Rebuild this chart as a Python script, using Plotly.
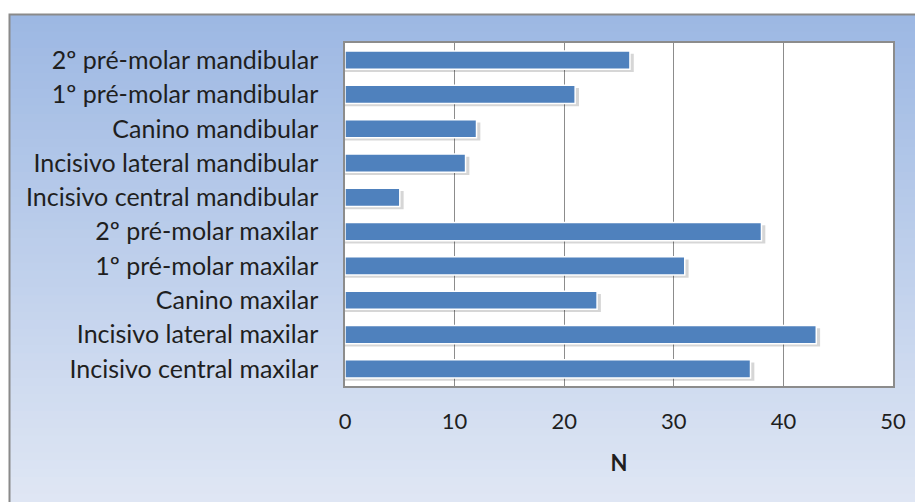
import plotly.graph_objects as go

categories = [
    "2º pré-molar mandibular",
    "1º pré-molar mandibular",
    "Canino mandibular",
    "Incisivo lateral mandibular",
    "Incisivo central mandibular",
    "2º pré-molar maxilar",
    "1º pré-molar maxilar",
    "Canino maxilar",
    "Incisivo lateral maxilar",
    "Incisivo central maxilar",
]
values = [26, 21, 12, 11, 5, 38, 31, 23, 43, 37]
x_ticks = [0, 10, 20, 30, 40, 50]
x_title = "N"

# page has an 8px body margin
OFF = 8
W, H = 923, 502
L = 345 - OFF
T = 43 - OFF
R = W - (893 - OFF)
B = H - (386 - OFF)
pw, ph = W - L - R, H - T - B

def px_to_paper_x(px):  # px in page coords
    return (px - OFF - L) / pw

def px_to_paper_y(py):
    return (H - B - (py - OFF)) / ph

shapes = []
top_c = (157, 184, 227)
bot_c = (224, 231, 244)
n = 60
y_start, y_end = 15, 510
for i in range(n):
    t = i / (n - 1)
    c = tuple(round(top_c[k] + (bot_c[k] - top_c[k]) * t) for k in range(3))
    ya = y_start + (y_end - y_start) * i / n
    yb = y_start + (y_end - y_start) * (i + 1) / n + 1
    shapes.append(dict(
        type="rect", xref="paper", yref="paper", layer="below",
        x0=px_to_paper_x(10), x1=px_to_paper_x(940),
        y0=px_to_paper_y(ya), y1=px_to_paper_y(yb),
        fillcolor="rgb(%d,%d,%d)" % c, line=dict(width=0),
    ))
shapes.append(dict(type="rect", xref="paper", yref="paper", layer="below",
                   x0=0, x1=1, y0=0, y1=1, fillcolor="white", line=dict(width=0)))
shapes.append(dict(type="rect", xref="paper", yref="paper", layer="above",
                   x0=px_to_paper_x(9.5), x1=px_to_paper_x(960),
                   y0=px_to_paper_y(540), y1=px_to_paper_y(14.5),
                   fillcolor="rgba(0,0,0,0)", line=dict(width=2, color="#8a8a8a")))

bw = 0.53
fig = go.Figure()
fig.add_trace(go.Bar(
    y=categories, x=[v + 0.35 for v in values], orientation="h",
    width=bw, offset=-bw / 2 + 0.08,
    marker=dict(color="rgba(0,0,0,0.16)", line=dict(width=0)),
    hoverinfo="skip", showlegend=False,
))
fig.add_trace(go.Bar(
    y=categories, x=values, orientation="h",
    width=bw, offset=-bw / 2,
    marker=dict(color="#4F81BD", line=dict(color="white", width=1.5)),
    showlegend=False,
))

fig.update_layout(
    width=W, height=H,
    margin=dict(l=L, r=R, t=T, b=B),
    paper_bgcolor="white", plot_bgcolor="rgba(0,0,0,0)",
    barmode="overlay",
    shapes=shapes,
    font=dict(family="Lato, 'Open Sans', sans-serif", color="#1f1f1f", size=23),
    xaxis=dict(
        range=[0, 50], tickvals=x_ticks, ticktext=[str(v) for v in x_ticks],
        showgrid=True, gridcolor="#8c8c8c", gridwidth=1,
        showline=True, linecolor="#8c8c8c", linewidth=1.5, mirror=True,
        ticks="outside", ticklen=15, tickcolor="rgba(0,0,0,0)",
        tickfont=dict(size=22), zeroline=False,
        title=dict(text="<b>" + x_title + "</b>", font=dict(size=22), standoff=22),
    ),
    yaxis=dict(
        categoryorder="array", categoryarray=categories, autorange="reversed",
        showgrid=False,
        showline=True, linecolor="#8c8c8c", linewidth=1.5, mirror=True,
        ticks="outside", ticklen=20, tickcolor="rgba(0,0,0,0)",
        tickfont=dict(size=25),
    ),
)

fig.write_html("out.html")
